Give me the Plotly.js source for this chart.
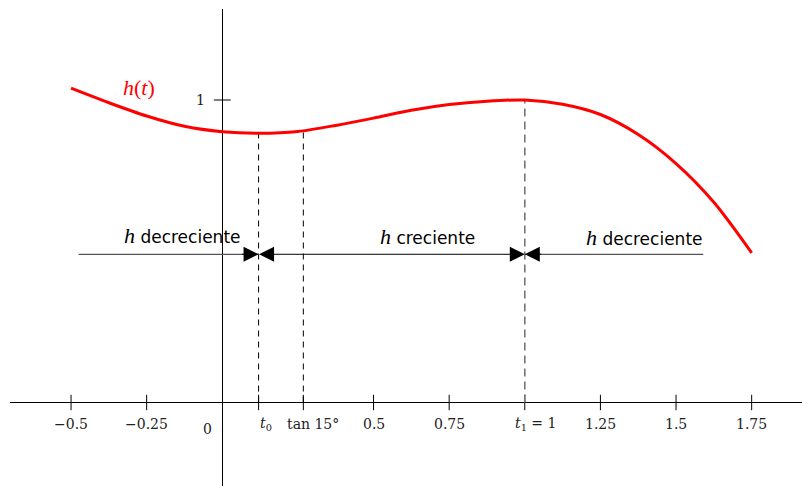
<!DOCTYPE html>
<html>
<head>
<meta charset="utf-8">
<script src="https://cdn.plot.ly/plotly-3.0.1.min.js"></script>
<style>html,body{margin:0;padding:0;background:#fff;}#chart{width:802px;height:486px;}</style>
</head>
<body>
<div id="chart"></div>
<script>
// ---- data ----
const tCurve = [-0.5, -0.375, -0.25, -0.125, 0.0, 0.125, 0.25, 0.375, 0.5, 0.625, 0.75, 0.875, 1.0, 1.125, 1.25, 1.375, 1.5, 1.625, 1.75];
const hCurve = [1.039, 0.991, 0.947, 0.913, 0.895, 0.890, 0.896, 0.916, 0.940, 0.966, 0.985, 0.996, 1.0, 0.986, 0.952, 0.886, 0.790, 0.662, 0.495];

const t0 = 0.12;
const tan15 = 0.2679;
const t1 = 1.0;
const hAtT0 = 0.890;
const hAtTan15 = 0.897;
const hAtT1 = 1.0;

const arrowY = 0.49;
const arrowLeft = -0.475;
const arrowRight = 1.59;

const tickVals = [-0.5, -0.25, 0.5, 0.75, 1.25, 1.5, 1.75];
const tickText = ['\u22120.5', '\u22120.25', '0.5', '0.75', '1.25', '1.5', '1.75'];
const specialTickVals = [t0, tan15, t1];
const specialTickText = ['<i>t</i><sub>0</sub>', 'tan 15\u00b0', '<i>t</i><sub>1</sub> = 1'];
const yTickVals = [1];
const yTickText = ['1'];

const curveLabel = '<i>h</i>(<i>t</i>)';
const intervalLabels = ['decreciente', 'creciente', 'decreciente'];

// ---- traces ----
const serif = 'DejaVu Serif';
const traces = [
  { // x ticks (cross the axis)
    x: tickVals.concat(specialTickVals), y: tickVals.concat(specialTickVals).map(() => 0),
    mode: 'markers', type: 'scatter', hoverinfo: 'skip',
    marker: {symbol: 'line-ns', size: 11, line: {color: '#000', width: 1}}
  },
  { // y ticks
    x: yTickVals.map(() => 0), y: yTickVals,
    mode: 'markers', type: 'scatter', hoverinfo: 'skip',
    marker: {symbol: 'line-ew', size: 12, line: {color: '#000', width: 1}}
  },
  { // dashed at t0
    x: [t0, t0], y: [0, hAtT0], mode: 'lines', type: 'scatter',
    line: {color: '#000', width: 1, dash: '6px,5px'}
  },
  { // dashed at tan 15
    x: [tan15, tan15], y: [0, hAtTan15], mode: 'lines', type: 'scatter',
    line: {color: '#000', width: 1, dash: '6px,5px'}
  },
  { // dashed at t1
    x: [t1, t1], y: [0, hAtT1], mode: 'lines', type: 'scatter',
    line: {color: '#777', width: 1.6, dash: '8px,5px'}
  },
  { // left interval line
    x: [arrowLeft, t0], y: [arrowY, arrowY], mode: 'lines', type: 'scatter',
    line: {color: '#555', width: 1.2}
  },
  { // right interval line
    x: [t1, arrowRight], y: [arrowY, arrowY], mode: 'lines', type: 'scatter',
    line: {color: '#555', width: 1.2}
  },
  { // curve h(t)
    x: tCurve, y: hCurve, mode: 'lines', type: 'scatter',
    line: {color: '#ff0000', width: 3, shape: 'spline', smoothing: 0.8}
  }
];

// ---- annotations ----
const ann = [];
tickVals.forEach((v, i) => ann.push({
  x: v, y: 0, xref: 'x', yref: 'y', text: tickText[i], showarrow: false,
  yanchor: 'middle', xanchor: 'center', yshift: -21,
  font: {family: serif, size: 14, color: '#222'}
}));
const specialShift = [7, 10, 11];
specialTickVals.forEach((v, i) => ann.push({
  x: v, y: 0, xref: 'x', yref: 'y', text: specialTickText[i], showarrow: false,
  yanchor: 'middle', xanchor: 'center', yshift: -21, xshift: specialShift[i],
  font: {family: serif, size: 14, color: '#222'}
}));
ann.push({x: 0, y: 0, text: '0', showarrow: false, xshift: -15, yshift: -26,
  font: {family: serif, size: 14, color: '#222'}});
yTickVals.forEach((v, i) => ann.push({
  x: 0, y: v, text: yTickText[i], showarrow: false, xanchor: 'right', xshift: -15,
  font: {family: serif, size: 14, color: '#222'}
}));
// curve label
ann.push({x: -0.275, y: 1.04, text: curveLabel, showarrow: false,
  font: {family: 'Liberation Serif', size: 22, color: '#ff0000'}});
// interval labels
const hSpan = '<span style="font-family:\'Liberation Serif\', serif;font-size:22px"><i>h</i></span> ';
const labelPos = [[-0.133, 0.553], [0.677, 0.55], [1.397, 0.545]];
intervalLabels.forEach((s, i) => ann.push({
  x: labelPos[i][0], y: labelPos[i][1], text: hSpan + s, showarrow: false,
  font: {family: 'DejaVu Sans', size: 17, color: '#000'}
}));
// arrowheads
const headStyle = {showarrow: true, text: '', arrowhead: 2, arrowsize: 3, arrowwidth: 1,
  arrowcolor: '#000', borderpad: 0, standoff: 0, startstandoff: 0};
ann.push(Object.assign({x: t0, y: arrowY, ax: -17, ay: 0}, headStyle));
ann.push(Object.assign({x: t1, y: arrowY, ax: 17, ay: 0}, headStyle));
ann.push(Object.assign({x: t1, y: arrowY, ax: t0, ay: arrowY, axref: 'x', ayref: 'y',
  arrowside: 'end+start', startarrowhead: 2, startarrowsize: 3}, headStyle));

const layout = {
  width: 802, height: 486,
  margin: {l: 10, r: 0, t: 9, b: 0, pad: 0},
  paper_bgcolor: '#fff', plot_bgcolor: '#fff',
  showlegend: false,
  xaxis: {range: [-0.7018, 1.9164], showgrid: false, zeroline: true, zerolinecolor: '#000',
    zerolinewidth: 1, showticklabels: false, ticks: '', showline: false, fixedrange: true},
  yaxis: {range: [-0.276, 1.3008], showgrid: false, zeroline: true, zerolinecolor: '#000',
    zerolinewidth: 1, showticklabels: false, ticks: '', showline: false, fixedrange: true},
  annotations: ann
};

Plotly.newPlot('chart', traces, layout, {staticPlot: true, displayModeBar: false});
</script>
</body>
</html>
